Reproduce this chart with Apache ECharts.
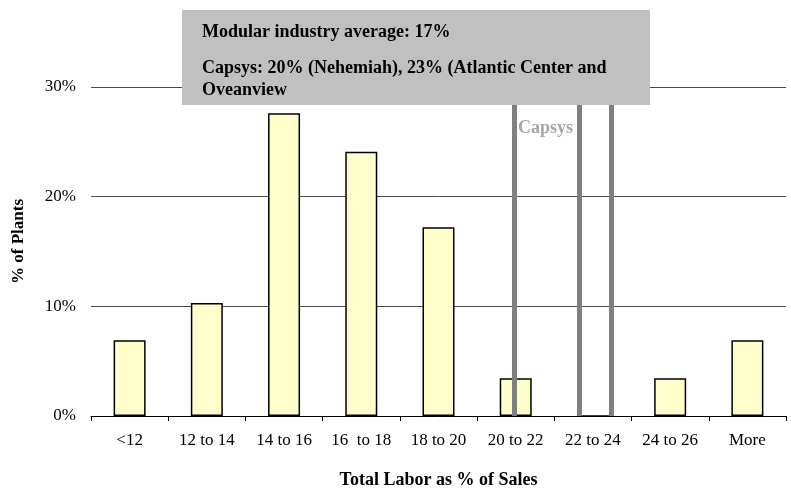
<!DOCTYPE html>
<html>
<head>
<meta charset="utf-8">
<script src="https://cdn.jsdelivr.net/npm/echarts@6/dist/echarts.min.js"></script>
<style>html,body{margin:0;padding:0;background:#fff;}#c{width:791px;height:494px;}</style>
</head>
<body>
<div id="c"></div>
<script>
var categories = ['<12', '12 to 14', '14 to 16', '16  to 18', '18 to 20', '20 to 22', '22 to 24', '24 to 26', 'More'];
var plantShare = [6.9, 10.3, 27.6, 24.1, 17.2, 3.45, 0, 3.45, 6.9];
var yTicks = [0, 10, 20, 30];
// Capsys reference lines, in Total Labor % (category "<12" spans 10-12, etc.)
var capsysLines = [20.96, 22.64, 23.47];
var boxLines = ['Modular industry average: 17%', 'Capsys: 20% (Nehemiah), 23% (Atlantic Center and', 'Oveanview'];

var font = 'Liberation Serif, Times New Roman, serif';
var chart = echarts.init(document.getElementById('c'));
chart.setOption({
  animation: false,
  backgroundColor: '#fff',
  grid: { left: 91, right: 5, top: 87, bottom: 74, containLabel: false },
  xAxis: [{
    type: 'category',
    data: categories,
    axisLine: { lineStyle: { color: '#000', width: 1 } },
    axisTick: { show: true, length: 5, lineStyle: { color: '#000' } },
    axisLabel: { color: '#000', fontFamily: font, fontSize: 17, margin: 16, interval: 0 },
    name: 'Total Labor as % of Sales',
    nameLocation: 'middle',
    nameGap: 55,
    nameTextStyle: { color: '#000', fontFamily: font, fontSize: 18, fontWeight: 'bold' }
  }, {
    type: 'value', min: 10, max: 28, show: false
  }],
  yAxis: {
    type: 'value',
    min: yTicks[0], max: yTicks[yTicks.length - 1], interval: 10,
    axisLine: { show: false },
    axisTick: { show: false },
    splitLine: { lineStyle: { color: '#4a4a4a', width: 1 } },
    axisLabel: { color: '#000', fontFamily: font, fontSize: 17, margin: 15, formatter: '{value}%' },
    name: '% of Plants',
    nameLocation: 'middle',
    nameGap: 64,
    nameTextStyle: { color: '#000', fontFamily: font, fontSize: 17, fontWeight: 'bold', padding: [0, 0, 0, 20] }
  },
  series: [{
    type: 'bar',
    data: plantShare,
    barWidth: 32,
    itemStyle: { color: '#ffffcc', borderColor: '#000', borderWidth: 1.5 },
    z: 2
  }, {
    type: 'line',
    xAxisIndex: 1,
    data: [],
    z: 3,
    markLine: {
      silent: true,
      symbol: 'none',
      label: { show: false },
      lineStyle: { color: '#808080', width: 5, type: 'solid' },
      data: capsysLines.map(function (v) { return { xAxis: v }; })
    }
  }],
  graphic: [{
    type: 'rect', left: 182, top: 10, z: 100,
    shape: { width: 468, height: 95 },
    style: { fill: '#c0c0c0' }
  }, {
    type: 'text', left: 202, top: 23, z: 101,
    style: { text: boxLines[0], fill: '#000', font: 'bold 18px ' + font }
  }, {
    type: 'text', left: 202, top: 59, z: 101,
    style: { text: boxLines[1], fill: '#000', font: 'bold 18px ' + font }
  }, {
    type: 'text', left: 202, top: 81, z: 101,
    style: { text: boxLines[2], fill: '#000', font: 'bold 18px ' + font }
  }, {
    type: 'text', left: 518, top: 119, z: 101,
    style: { text: 'Capsys', fill: '#a6a6a6', font: 'bold 18px ' + font }
  }]
});
</script>
</body>
</html>
